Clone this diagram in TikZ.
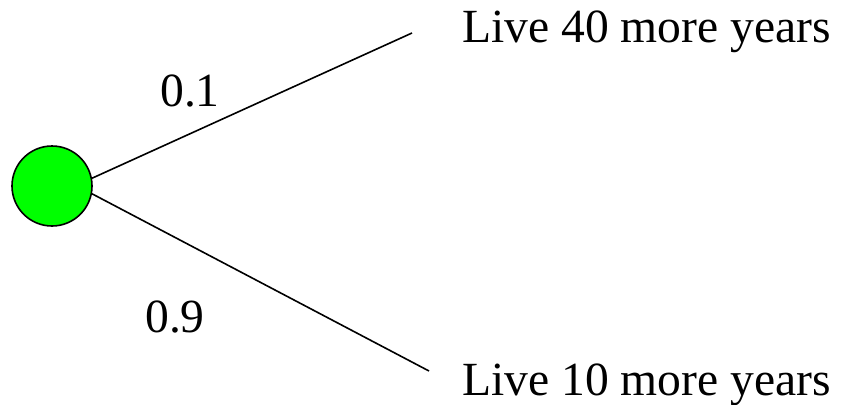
\documentclass[tikz,border=0pt]{standalone}
\usepackage{fontspec}
\setmainfont{Liberation Serif}
\begin{document}
\begin{tikzpicture}[x=1pt,y=-1pt,
  chance/.style={circle,draw=black,fill=green,line width=1.6pt,minimum size=80pt,inner sep=0pt},
  branch/.style={draw=black,line width=1.6pt},
  lbl/.style={inner sep=0pt,anchor=base west,font=\fontsize{47.6}{57}\selectfont}]
\useasboundingbox (0,0) rectangle (845,404);
\node[chance] (c) at (52,186) {};
\coordinate (e1) at (412,33);
\coordinate (e2) at (429,371);
\draw[branch] (c.11) -- (e1);
\draw[branch] (c.-11) -- (e2);
\node[lbl] (t1) at (462,43) {Live 40 more years};
\node[lbl] (t2) at (462,395) {Live 10 more years};
\node[lbl] (p1) at (160,106) {0.1};
\node[lbl] (p2) at (145,332) {0.9};
\end{tikzpicture}
\end{document}
